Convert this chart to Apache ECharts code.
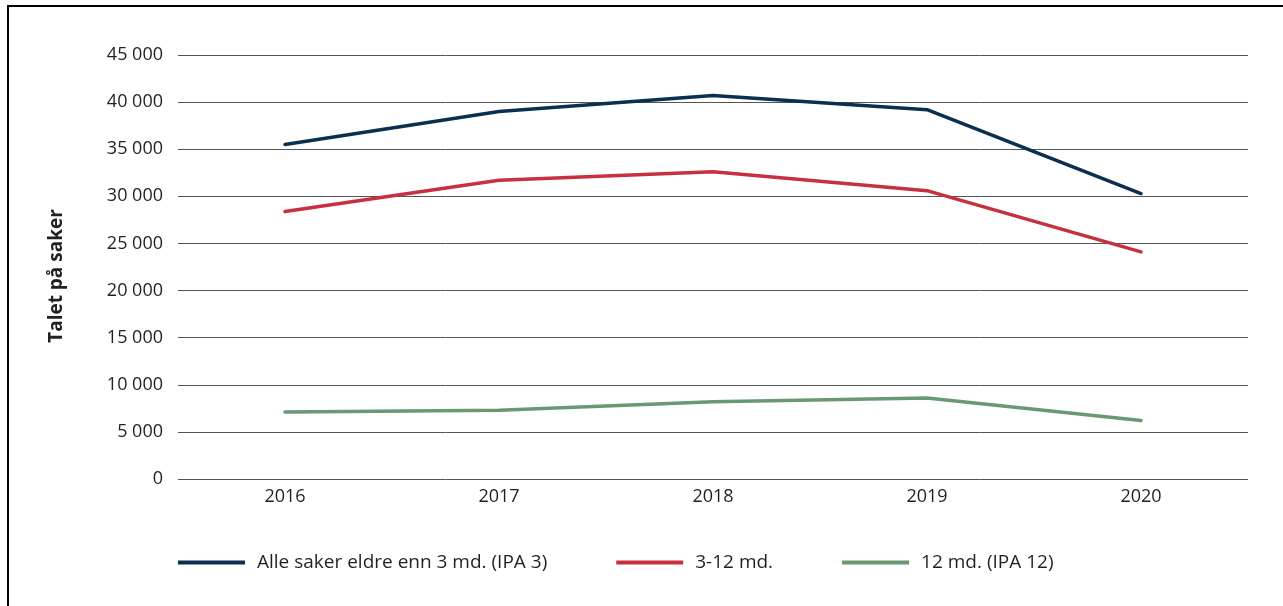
<!DOCTYPE html>
<html><head><meta charset="utf-8">
<script src="https://cdn.jsdelivr.net/npm/echarts@6/dist/echarts.min.js"></script>
<style>html,body{margin:0;padding:0;background:#fff;overflow:hidden}#c{width:1283px;height:606px}</style>
</head><body><div id="c"></div>
<script>
const categories = ['2016','2017','2018','2019','2020'];
const seriesNames = ['Alle saker eldre enn 3 md. (IPA 3)','3-12 md.','12 md. (IPA 12)'];
const ipa3 = [35500, 39000, 40700, 39200, 30300];
const m3to12 = [28400, 31700, 32600, 30600, 24100];
const ipa12 = [7100, 7300, 8200, 8600, 6200];
const yTicks = {min:0, max:45000, interval:5000};
const colors = ['#0b2f4f','#c8303f','#6a9873'];
const font = 'Open Sans';
const chart = echarts.init(document.getElementById('c'), null, {renderer:'canvas'});
const mk = (name, data, color) => ({
  name, type:'line', data, symbol:'none', smooth:false,
  lineStyle:{color, width:3.5, cap:'round'}, itemStyle:{color}
});
chart.setOption({
  animation:false,
  textStyle:{fontFamily:font},
  graphic:[{type:'rect', shape:{x:8,y:6,width:1300,height:700}, style:{fill:'none', stroke:'#000', lineWidth:2}, silent:true}],
  grid:{left:178, right:35, top:55, bottom:127, containLabel:false},
  xAxis:{type:'category', data:categories, boundaryGap:true,
    axisLine:{show:false}, axisTick:{show:false},
    axisLabel:{color:'#231f20', fontSize:18, fontFamily:font, margin:9}},
  yAxis:{type:'value', min:yTicks.min, max:yTicks.max, interval:yTicks.interval,
    name:'Talet på saker', nameLocation:'middle', nameGap:112, nameRotate:90,
    nameTextStyle:{fontSize:19, fontWeight:'bold', color:'#231f20', fontFamily:font, padding:[0,18,0,0]},
    axisLine:{show:false}, axisTick:{show:false},
    axisLabel:{color:'#231f20', fontSize:18, fontFamily:font, margin:15,
      formatter:v => v===0 ? '0' : String(v).replace(/\B(?=(\d{3})+(?!\d))/g,' ')},
    splitLine:{lineStyle:{color:'#555', width:1}}},
  legend:{left:173, top:548, itemWidth:67, itemHeight:4, itemGap:69, icon:'rect',
    textStyle:{fontSize:19, color:'#231f20', fontFamily:font, padding:[0,0,0,7]},
    data:seriesNames},
  series:[mk(seriesNames[0], ipa3, colors[0]), mk(seriesNames[1], m3to12, colors[1]), mk(seriesNames[2], ipa12, colors[2])]
});
</script></body></html>
